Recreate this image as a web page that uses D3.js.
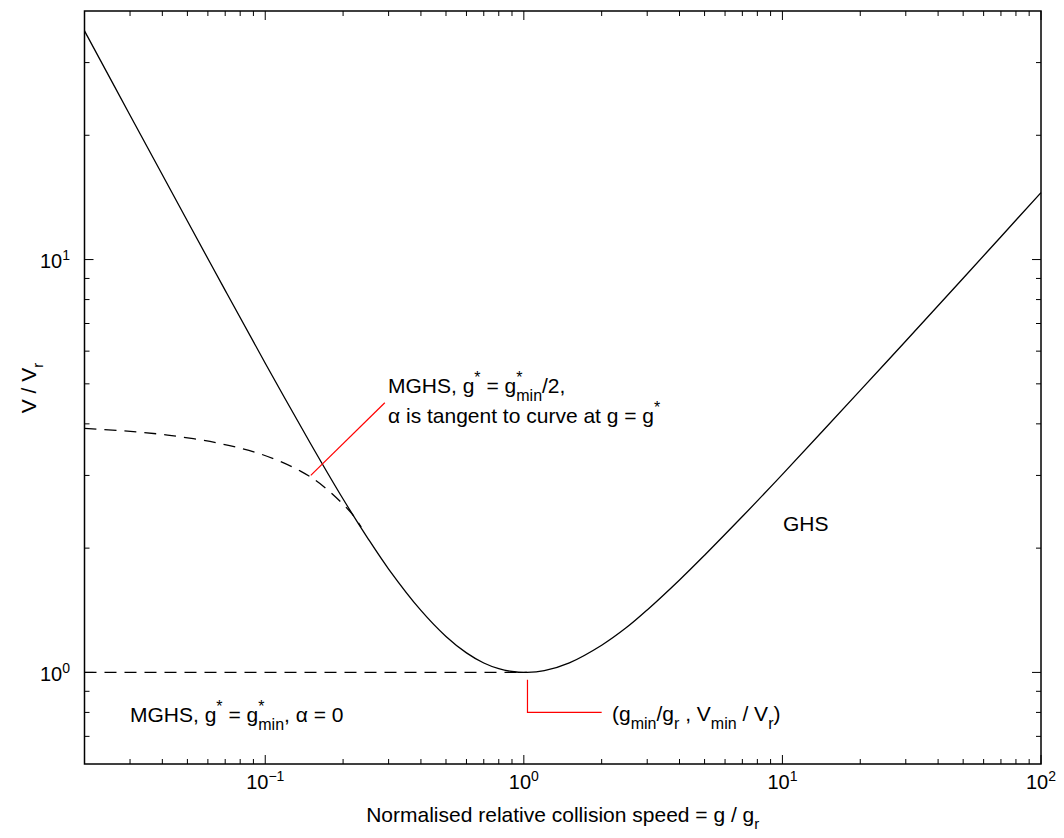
<!DOCTYPE html>
<html>
<head>
<meta charset="utf-8">
<script src="https://cdn.jsdelivr.net/npm/d3@7"></script>
<style>
  html, body { margin: 0; padding: 0; background: #fff; }
  svg { display: block; }
  text { font-family: "Liberation Sans", Arial, Helvetica, sans-serif; fill: #000; white-space: pre; }
</style>
</head>
<body>
<svg id="chart" width="1064" height="838"></svg>
<script>
// ---------------- data ----------------
const ghsX = [0.02, 0.03, 0.05, 0.07, 0.1, 0.15, 0.2, 0.25, 0.3, 0.4, 0.5, 0.6, 0.7, 0.8, 0.9, 1.03, 1.2, 1.5, 2, 2.5, 3, 4, 5, 7, 10, 20, 30, 50, 70, 100];
const ghsY = [35.8, 22.37, 12.40, 8.42, 5.61, 3.575, 2.63, 2.107, 1.78, 1.413, 1.222, 1.115, 1.054, 1.021, 1.005, 1.0, 1.01, 1.055, 1.164, 1.286, 1.417, 1.675, 1.923, 2.385, 3.018, 4.82, 6.35, 9.01, 11.36, 14.53];

const mghsHalfX = [0.02, 0.0285, 0.0419, 0.0654, 0.0962, 0.1374, 0.169, 0.2145, 0.235];
const mghsHalfY = [3.90, 3.845, 3.757, 3.594, 3.379, 3.069, 2.814, 2.438, 2.25];

const mghsZeroX = [0.02, 1.03];
const mghsZeroY = [1, 1];

const tangentMarkerX = [0.15, 0.29];
const tangentMarkerY = [3.0, 4.5];
const minMarkerX = [1.033, 1.033, 2.0];
const minMarkerY = [0.96, 0.80, 0.80];

const xDomain = [0.02, 100];
const yDomain = [0.6, 40];
const xMajorTicks = [0.1, 1, 10, 100];
const xMajorExp = ["\u22121", "0", "1", "2"];
const yMajorTicks = [1, 10];
const yMajorExp = ["0", "1"];

// ---------------- layout ----------------
const svg = d3.select("#chart");
const L = 84.5, R = 1041, T = 11, B = 764;

const x = d3.scaleLog().domain(xDomain).range([L, R]);
const y = d3.scaleLog().domain(yDomain).range([B, T]);

function minorTicks(domain) {
  const out = [];
  for (let e = Math.floor(Math.log10(domain[0])); e <= Math.ceil(Math.log10(domain[1])); e++) {
    for (let m = 2; m <= 9; m++) {
      const v = m * Math.pow(10, e);
      if (v > domain[0] * 1.0001 && v < domain[1] * 0.9999) out.push(v);
    }
  }
  return out;
}
const xMinor = minorTicks(xDomain);
const yMinor = minorTicks(yDomain);

const MAJ = 9, MIN = 5;
const tickG = svg.append("g").attr("stroke", "#000").attr("stroke-width", 1);
xMajorTicks.forEach(v => {
  tickG.append("line").attr("x1", x(v)).attr("x2", x(v)).attr("y1", B).attr("y2", B - MAJ);
  tickG.append("line").attr("x1", x(v)).attr("x2", x(v)).attr("y1", T).attr("y2", T + MAJ);
});
xMinor.forEach(v => {
  tickG.append("line").attr("x1", x(v)).attr("x2", x(v)).attr("y1", B).attr("y2", B - MIN);
  tickG.append("line").attr("x1", x(v)).attr("x2", x(v)).attr("y1", T).attr("y2", T + MIN);
});
yMajorTicks.forEach(v => {
  tickG.append("line").attr("y1", y(v)).attr("y2", y(v)).attr("x1", L).attr("x2", L + MAJ);
  tickG.append("line").attr("y1", y(v)).attr("y2", y(v)).attr("x1", R).attr("x2", R - MAJ);
});
yMinor.forEach(v => {
  tickG.append("line").attr("y1", y(v)).attr("y2", y(v)).attr("x1", L).attr("x2", L + MIN);
  tickG.append("line").attr("y1", y(v)).attr("y2", y(v)).attr("x1", R).attr("x2", R - MIN);
});

svg.append("rect").attr("x", L).attr("y", T).attr("width", R - L).attr("height", B - T)
  .attr("fill", "none").attr("stroke", "#000").attr("stroke-width", 1.5);

// rich text helper: segments of normal / sup / sub text
function rich(sel, segs, base, small, supShift, subShift) {
  let cur = 0;
  segs.forEach(s => {
    const k = s.k || "n";
    const off = k === "sup" ? -supShift : k === "sub" ? subShift : 0;
    const t = sel.append("tspan").attr("dy", off - cur).style("font-size", (k === "n" ? base : small) + "px").text(s.t);
    if (s.dx) t.attr("dx", s.dx);
    cur = off;
  });
  return sel;
}

// tick labels
xMajorTicks.forEach((v, i) => {
  const t = svg.append("text").attr("x", x(v)).attr("y", 789).attr("text-anchor", "middle").style("font-size", "20px");
  rich(t, [{t: "10"}, {t: xMajorExp[i], k: "sup"}], 20, 14, 8, 7);
});
yMajorTicks.forEach((v, i) => {
  const t = svg.append("text").attr("x", 70).attr("y", y(v) + 8.5).attr("text-anchor", "end").style("font-size", "20px");
  rich(t, [{t: "10"}, {t: yMajorExp[i], k: "sup"}], 20, 14, 8, 7);
});

// axis titles
{
  const t = svg.append("text").attr("x", (L + R) / 2).attr("y", 822).attr("text-anchor", "middle").style("font-size", "21px");
  rich(t, [{t: "Normalised relative collision speed = g / g"}, {t: "r", k: "sub"}], 21, 15, 9, 7);
  const ty = svg.append("text").attr("transform", `translate(36,388) rotate(-90)`).attr("text-anchor", "middle").style("font-size", "21px");
  rich(ty, [{t: "V / V"}, {t: "r", k: "sub"}], 21, 15, 9, 7);
}

// curves
const line = d3.line().x(d => x(d[0])).y(d => y(d[1])).curve(d3.curveCatmullRom.alpha(0.5));
const straight = d3.line().x(d => x(d[0])).y(d => y(d[1]));
const plot = svg.append("g");
plot.append("path").datum(ghsX.map((v, i) => [v, ghsY[i]])).attr("d", line)
  .attr("fill", "none").attr("stroke", "#000").attr("stroke-width", 1.3);
plot.append("path").datum(mghsHalfX.map((v, i) => [v, mghsHalfY[i]])).attr("d", line)
  .attr("fill", "none").attr("stroke", "#000").attr("stroke-width", 1.3).attr("stroke-dasharray", "12,8");
plot.append("path").datum(mghsZeroX.map((v, i) => [v, mghsZeroY[i]])).attr("d", straight)
  .attr("fill", "none").attr("stroke", "#000").attr("stroke-width", 1.3).attr("stroke-dasharray", "12,8");

// red markers
plot.append("path").datum(tangentMarkerX.map((v, i) => [v, tangentMarkerY[i]])).attr("d", straight)
  .attr("fill", "none").attr("stroke", "#ff0000").attr("stroke-width", 1.2);
plot.append("path").datum(minMarkerX.map((v, i) => [v, minMarkerY[i]])).attr("d", straight)
  .attr("fill", "none").attr("stroke", "#ff0000").attr("stroke-width", 1.2);

// annotations
{
  const t1 = svg.append("text").attr("x", 388).attr("y", 393).style("font-size", "21px");
  rich(t1, [{t: "MGHS, g"}, {t: "*", k: "sup"}, {t: " = g"}, {t: "*", k: "sup"}, {t: "min", k: "sub", dx: -6.2}, {t: "/2,"}], 21, 16, 10, 8);
  const t2 = svg.append("text").attr("x", 388).attr("y", 423).style("font-size", "21px");
  rich(t2, [{t: "\u03b1 is tangent to curve at g = g"}, {t: "*", k: "sup"}], 21, 16, 10, 8);
  svg.append("text").attr("x", 783).attr("y", 531).style("font-size", "21px").text("GHS");
  const t3 = svg.append("text").attr("x", 130).attr("y", 722).style("font-size", "21px");
  rich(t3, [{t: "MGHS, g"}, {t: "*", k: "sup"}, {t: " = g"}, {t: "*", k: "sup"}, {t: "min", k: "sub", dx: -6.2}, {t: ", \u03b1 = 0"}], 21, 16, 10, 8);
  const t4 = svg.append("text").attr("x", 612).attr("y", 721).style("font-size", "21px");
  rich(t4, [{t: "(g"}, {t: "min", k: "sub"}, {t: "/g"}, {t: "r", k: "sub"}, {t: " , V"}, {t: "min", k: "sub"}, {t: " / V"}, {t: "r", k: "sub"}, {t: ")"}], 21, 16, 10, 8);
}
</script>
</body>
</html>
